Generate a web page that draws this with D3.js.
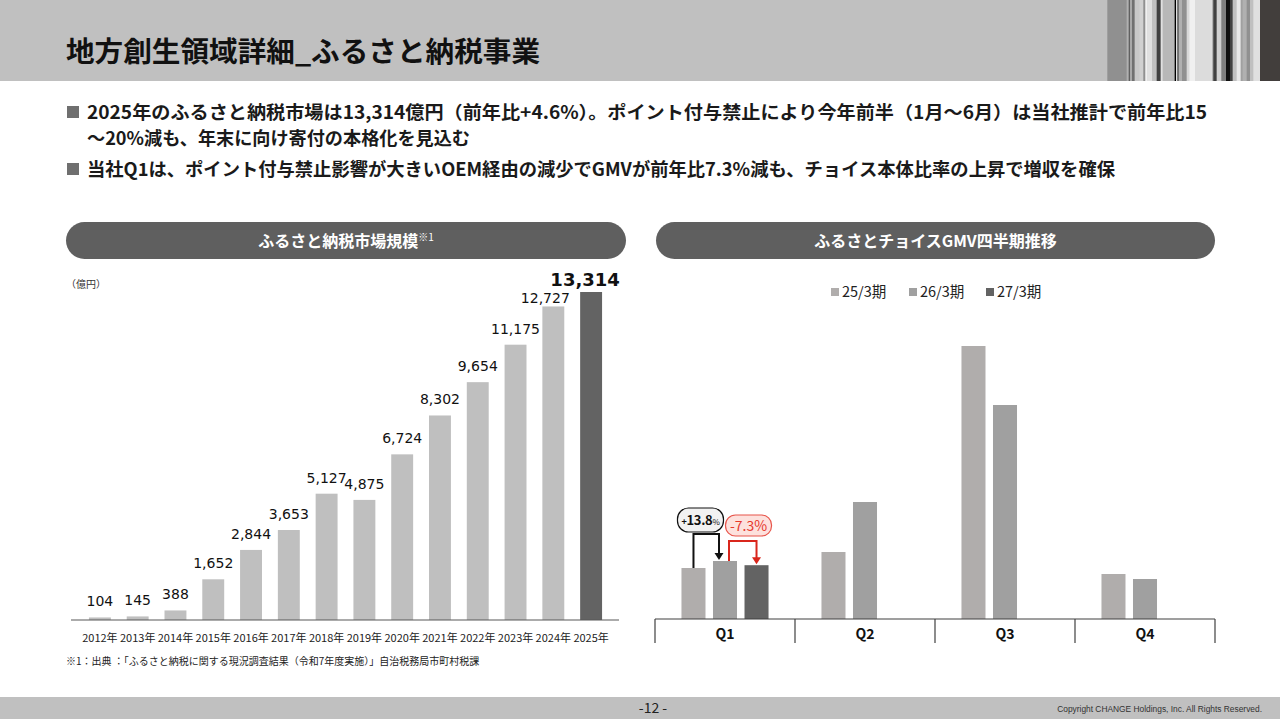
<!DOCTYPE html>
<html>
<head>
<meta charset="utf-8">
<script src="https://cdn.jsdelivr.net/npm/d3@7"></script>
<style>
  html, body { margin: 0; padding: 0; background: #fff; }
  svg { display: block; }
  text { font-family: "Noto Sans CJK JP", "Noto Sans", sans-serif; }
</style>
</head>
<body>
<svg id="chart" width="1280" height="720"></svg>
<script>
(function () {
  'use strict';

  // ---- data ----
  var pageTitle = '地方創生領域詳細_ふるさと納税事業';
  var bulletLines = [
    '2025年のふるさと納税市場は13,314億円（前年比+4.6%）。ポイント付与禁止により今年前半（1月～6月）は当社推計で前年比15',
    '～20%減も、年末に向け寄付の本格化を見込む',
    '当社Q1は、ポイント付与禁止影響が大きいOEM経由の減少でGMVが前年比7.3%減も、チョイス本体比率の上昇で増収を確保'
  ];
  var years = ['2012年', '2013年', '2014年', '2015年', '2016年', '2017年', '2018年',
    '2019年', '2020年', '2021年', '2022年', '2023年', '2024年', '2025年'];
  var marketValues = [104, 145, 388, 1652, 2844, 3653, 5127, 4875, 6724, 8302, 9654, 11175, 12727, 13314];
  var quarters = ['Q1', 'Q2', 'Q3', 'Q4'];
  var periods = ['25/3期', '26/3期', '27/3期'];
  // GMV (relative scale)
  var gmv25 = [51, 67, 273, 45];
  var gmv26 = [58, 117, 214, 40];
  var gmv27 = [53.8, null, null, null];
  var growthLabels = ['+13.8', '-7.3%'];
  var footnote = '※1：出典 ：「ふるさと納税に関する現況調査結果（令和7年度実施）」自治税務局市町村税課';

  // header stripe decoration (x in 1/3 px from 1090)
  var stripes = [
    [52, 110, '#909090'], [110, 116, '#b0b0b0'], [116, 120, '#606060'], [120, 126, '#a8a8a8'],
    [126, 134, '#707070'], [134, 148, '#c8c8c8'], [148, 160, '#d0d0d0'], [160, 166, '#909090'],
    [166, 172, '#f0f0f0'], [172, 186, '#e0e0e0'], [186, 200, '#c0c0c0'], [200, 212, '#404040'],
    [212, 218, '#e0e0e0'], [218, 254, '#b8b8b8'], [254, 258, '#000000'], [258, 262, '#e0e0e0'],
    [262, 266, '#505050'], [266, 276, '#b0b0b0'], [276, 290, '#909090'], [290, 298, '#d8d8d8'],
    [298, 316, '#f0f0f0'], [316, 368, '#dcdcdc'], [368, 372, '#606060'], [372, 380, '#404040'],
    [380, 394, '#d0d0d0'], [394, 408, '#808080'], [408, 420, '#101010'], [420, 428, '#404040'],
    [428, 440, '#c0c0c0'], [440, 452, '#e8e8e8'], [452, 458, '#a0a0a0'], [458, 470, '#b0b0b0'],
    [470, 480, '#909090'], [480, 490, '#c0c0c0'], [490, 510, '#e0e0e0'], [510, 570, '#423e3c']
  ];

  var colors = { c25: '#b0adac', c26: '#a0a0a0', c27: '#636363', market: '#bfbfbf', marketLast: '#636363' };
  var periodColors = [colors.c25, colors.c26, colors.c27];

  var svg = d3.select('#chart');

  // ---- header ----
  svg.append('rect').attr('x', 0).attr('y', 0).attr('width', 1280).attr('height', 81).attr('fill', '#c0c0c0');
  svg.append('g').selectAll('rect').data(stripes).join('rect')
    .attr('x', function (d) { return 1090 + d[0] / 3; })
    .attr('width', function (d) { return (d[1] - d[0]) / 3 + 0.3; })
    .attr('y', 0).attr('height', 81)
    .attr('fill', function (d) { return d[2]; });
  svg.append('text').attr('x', 66).attr('y', 62)
    .attr('font-size', 28).attr('font-weight', 'bold').attr('fill', '#111')
    .attr('textLength', 474).attr('lengthAdjust', 'spacingAndGlyphs')
    .text(pageTitle);

  // ---- bullets ----
  var bulletY = [119, 145, 176];
  var bulletLen = [1120, 383, 1028];
  bulletLines.forEach(function (line, i) {
    if (i !== 1) {
      svg.append('rect').attr('x', 67).attr('y', bulletY[i] - 13).attr('width', 12).attr('height', 12).attr('fill', '#6f6f6f');
    }
    svg.append('text').attr('x', 87).attr('y', bulletY[i])
      .attr('font-size', 18).attr('font-weight', 'bold').attr('fill', '#1a1a1a')
      .attr('textLength', bulletLen[i]).attr('lengthAdjust', 'spacingAndGlyphs')
      .text(line);
  });

  // ---- section pills ----
  function pill(x0, x1, label, sup) {
    svg.append('rect').attr('x', x0).attr('y', 222).attr('width', x1 - x0).attr('height', 37)
      .attr('rx', 18.5).attr('fill', '#5f5f5f');
    var t = svg.append('text').attr('x', (x0 + x1) / 2).attr('y', 247)
      .attr('text-anchor', 'middle').attr('fill', '#fff').attr('font-size', 16).attr('font-weight', 'bold');
    t.append('tspan').text(label);
    if (sup) {
      t.append('tspan').attr('font-size', 10).attr('font-weight', 'normal').attr('dy', -6).text(sup);
    }
  }
  pill(66, 626, 'ふるさと納税市場規模', '※1');
  pill(656, 1215, 'ふるさとチョイスGMV四半期推移', null);

  // ---- left chart: market size ----
  var baseL = 620;
  var last = marketValues.length - 1;
  var xL = d3.scaleBand().domain(years).range([81, 610]).paddingInner(0.42).paddingOuter(0.21);
  var yL = d3.scaleLinear().domain([0, 13314]).range([baseL, 292]);

  svg.append('text').attr('x', 66).attr('y', 288).attr('font-size', 10).attr('fill', '#333').text('（億円）');

  var gL = svg.append('g');
  gL.selectAll('rect').data(marketValues).join('rect')
    .attr('x', function (d, i) { return xL(years[i]); })
    .attr('width', xL.bandwidth())
    .attr('y', function (d) { return yL(d); })
    .attr('height', function (d) { return baseL - yL(d); })
    .attr('fill', function (d, i) { return i === last ? colors.marketLast : colors.market; });

  // the last two labels are nudged left/down so they do not collide
  gL.selectAll('text.val').data(marketValues).join('text').attr('class', 'val')
    .attr('x', function (d, i) {
      var dx = i === last ? -6 : (i === last - 1 ? -8 : 0);
      return xL(years[i]) + xL.bandwidth() / 2 + dx;
    })
    .attr('y', function (d, i) { return yL(d) - (i === last ? 6 : (i === last - 1 ? 3 : 11)); })
    .attr('text-anchor', 'middle')
    .style('font-family', '"DejaVu Sans", Verdana, sans-serif')
    .attr('font-size', function (d, i) { return i === last ? 18 : 14; })
    .attr('font-weight', function (d, i) { return i === last ? 'bold' : 'normal'; })
    .attr('fill', '#111')
    .text(function (d) { return d3.format(',')(d); });

  svg.append('line').attr('x1', 71).attr('x2', 619).attr('y1', baseL).attr('y2', baseL)
    .attr('stroke', '#595959').attr('stroke-width', 1.2);

  var axL = svg.append('g').attr('transform', 'translate(0,' + baseL + ')')
    .call(d3.axisBottom(xL).tickSize(0).tickPadding(14));
  axL.select('.domain').remove();
  axL.selectAll('text').attr('font-size', 11).attr('fill', '#222')
    .style('font-family', '"Noto Sans CJK JP", sans-serif');

  svg.append('text').attr('x', 66).attr('y', 665).attr('font-size', 10).attr('fill', '#222').text(footnote);

  // ---- right chart: GMV by quarter ----
  var baseR = 619;
  var xR = d3.scaleBand().domain(quarters).range([655, 1215]);
  var xR2 = d3.scaleBand().domain(periods).range([0, xR.bandwidth()]).paddingInner(0.238).paddingOuter(0.84);
  var yR = d3.scaleLinear().domain([0, 290]).range([baseR, baseR - 290]);

  var series = [gmv25, gmv26, gmv27];
  var cells = [];
  quarters.forEach(function (q, qi) {
    series.forEach(function (s, si) {
      if (s[qi] != null) cells.push({ q: q, p: periods[si], v: s[qi], c: periodColors[si] });
    });
  });

  svg.append('g').selectAll('rect').data(cells).join('rect')
    .attr('x', function (d) { return xR(d.q) + xR2(d.p); })
    .attr('width', xR2.bandwidth())
    .attr('y', function (d) { return yR(d.v); })
    .attr('height', function (d) { return baseR - yR(d.v); })
    .attr('fill', function (d) { return d.c; });

  // axis: baseline + category dividers
  svg.append('line').attr('x1', 655).attr('x2', 1215).attr('y1', baseR).attr('y2', baseR)
    .attr('stroke', '#404040').attr('stroke-width', 1.2);
  var dividers = quarters.map(function (q) { return xR(q); }).concat([xR(quarters[3]) + xR.bandwidth()]);
  svg.append('g').selectAll('line').data(dividers).join('line')
    .attr('x1', function (d) { return d; }).attr('x2', function (d) { return d; })
    .attr('y1', baseR).attr('y2', baseR + 24)
    .attr('stroke', '#404040').attr('stroke-width', 1.2);
  svg.append('g').selectAll('text').data(quarters).join('text')
    .attr('x', function (d) { return xR(d) + xR.bandwidth() / 2; })
    .attr('y', baseR + 20)
    .attr('text-anchor', 'middle').attr('font-size', 14).attr('font-weight', 'bold').attr('fill', '#111')
    .text(function (d) { return d; });

  // legend
  var legX = [831, 909, 986];
  var leg = svg.append('g').selectAll('g').data(periods).join('g')
    .attr('transform', function (d, i) { return 'translate(' + legX[i] + ',292)'; });
  leg.append('rect').attr('x', 0).attr('y', -4).attr('width', 8).attr('height', 8)
    .attr('fill', function (d, i) { return periodColors[i]; });
  leg.append('text').attr('x', 11).attr('y', 5).attr('font-size', 14.5).attr('fill', '#222')
    .text(function (d) { return d; });

  // growth annotations in Q1
  function cx(p) { return xR('Q1') + xR2(p) + xR2.bandwidth() / 2; }
  var top25 = yR(gmv25[0]), top26 = yR(gmv26[0]), top27 = yR(gmv27[0]);

  function arrowHead(x, y, color) {
    svg.append('path')
      .attr('d', 'M' + (x - 4.5) + ',' + (y - 7) + 'L' + (x + 4.5) + ',' + (y - 7) + 'L' + x + ',' + y + 'Z')
      .attr('fill', color);
  }
  var xa0 = cx(periods[0]), xa1 = cx(periods[1]) - 6;
  svg.append('path')
    .attr('d', 'M' + xa0 + ',' + top25 + 'V534H' + xa1 + 'V' + (top26 - 6))
    .attr('fill', 'none').attr('stroke', '#111').attr('stroke-width', 2);
  arrowHead(xa1, top26 - 1, '#111');

  var xb0 = cx(periods[1]) + 4, xb1 = cx(periods[2]);
  svg.append('path')
    .attr('d', 'M' + xb0 + ',' + top26 + 'V541H' + xb1 + 'V' + (top27 - 6))
    .attr('fill', 'none').attr('stroke', '#d9261c').attr('stroke-width', 2);
  arrowHead(xb1, top27 - 1, '#d9261c');

  // +13.8% box
  var bx = xa0 + 7;
  svg.append('rect').attr('x', bx - 23).attr('y', 508).attr('width', 46).attr('height', 24).attr('rx', 11)
    .attr('fill', '#f2f2f2').attr('stroke', '#111').attr('stroke-width', 1.2);
  var t1 = svg.append('text').attr('x', bx).attr('y', 525).attr('text-anchor', 'middle').attr('fill', '#111')
    .attr('font-weight', 'bold').attr('letter-spacing', -0.3);
  t1.append('tspan').attr('font-size', 9).text(growthLabels[0].slice(0, 1));
  t1.append('tspan').attr('font-size', 13).text(growthLabels[0].slice(1));
  t1.append('tspan').attr('font-size', 8).attr('font-weight', 'normal').text('%');

  // -7.3% box
  var rx = xb1 - 8;
  svg.append('rect').attr('x', rx - 23).attr('y', 515).attr('width', 46).attr('height', 21).attr('rx', 10)
    .attr('fill', '#fde1dd').attr('stroke', '#e8554b').attr('stroke-width', 1.2);
  svg.append('text').attr('x', rx).attr('y', 531).attr('text-anchor', 'middle').attr('fill', '#e6382c')
    .attr('font-size', 14).text(growthLabels[1]);

  // ---- footer ----
  svg.append('rect').attr('x', 0).attr('y', 697).attr('width', 1280).attr('height', 22).attr('fill', '#c0c0c0');
  svg.append('text').attr('x', 653).attr('y', 713).attr('text-anchor', 'middle').attr('font-size', 14)
    .attr('fill', '#222').text('-12 -');
  svg.append('text').attr('x', 1262).attr('y', 712).attr('text-anchor', 'end').attr('font-size', 8.4)
    .style('font-family', '"Liberation Sans Narrow", "Liberation Sans", sans-serif')
    .attr('fill', '#333').text('Copyright CHANGE Holdings, Inc. All Rights Reserved.');
})();
</script>
</body>
</html>
